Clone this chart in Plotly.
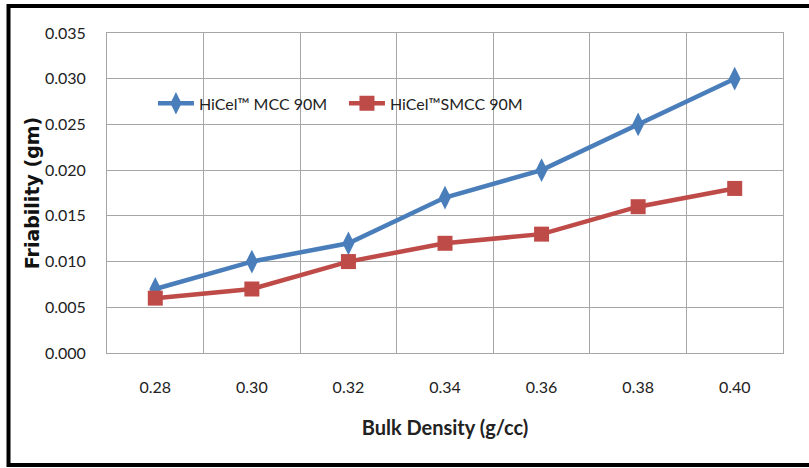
import plotly.graph_objects as go

categories = ["0.28", "0.30", "0.32", "0.34", "0.36", "0.38", "0.40"]
mcc = [0.007, 0.010, 0.012, 0.017, 0.020, 0.025, 0.030]
smcc = [0.006, 0.007, 0.010, 0.012, 0.013, 0.016, 0.018]
series_names = ["HiCel™ MCC 90M", "HiCel™SMCC 90M"]
y_ticks = [0.000, 0.005, 0.010, 0.015, 0.020, 0.025, 0.030, 0.035]

FONT = "Lato"
fig = go.Figure()
fig.add_trace(go.Scatter(x=categories, y=mcc, name=series_names[0], mode="lines+markers",
                         line=dict(color="#4A7EBB", width=4.5),
                         marker=dict(symbol="diamond-tall", size=17, color="#4A7EBB")))
fig.add_trace(go.Scatter(x=categories, y=smcc, name=series_names[1], mode="lines+markers",
                         line=dict(color="#BE4B48", width=4.5),
                         marker=dict(symbol="square", size=15, color="#BE4B48")))

fig.update_layout(
    width=809, height=468,
    margin=dict(l=107, r=26, t=33, b=115),
    paper_bgcolor="white", plot_bgcolor="white",
    font=dict(family=FONT, size=16, color="#222"),
    showlegend=True,
    legend=dict(orientation="h", x=0.068, y=0.78, xanchor="left", yanchor="middle",
                bgcolor="rgba(0,0,0,0)", font=dict(size=16, family=FONT),
                itemwidth=36, tracegroupgap=0, entrywidthmode="pixels", entrywidth=140),
    xaxis=dict(type="category", range=[-0.5, 6.5], tickson="boundaries",
               showgrid=True, gridcolor="#A6A6A6", gridwidth=1,
               showline=True, linecolor="#A6A6A6", mirror=True,
               ticks="", ticklabelstandoff=20,
               title=dict(text="<b>Bulk Density (g/cc)</b>", font=dict(size=20), standoff=25),
               fixedrange=True),
    yaxis=dict(range=[0, 0.035], tickvals=y_ticks, tickformat=".3f",
               showgrid=True, gridcolor="#A6A6A6", gridwidth=1,
               showline=True, linecolor="#A6A6A6", mirror=True, zeroline=False,
               ticks="", ticklabelstandoff=17,
               title=dict(text="<b>Friability (gm)</b>",
                          font=dict(size=19, family="DejaVu Sans", color="#111"), standoff=0),
               fixedrange=True),
    shapes=[dict(type="rect", xref="paper", yref="paper",
                 x0=-0.1457, x1=1.07, y0=-0.35, y1=1.084,
                 line=dict(color="black", width=4), fillcolor="rgba(0,0,0,0)", layer="above")],
)

fig.write_html("out.html")
